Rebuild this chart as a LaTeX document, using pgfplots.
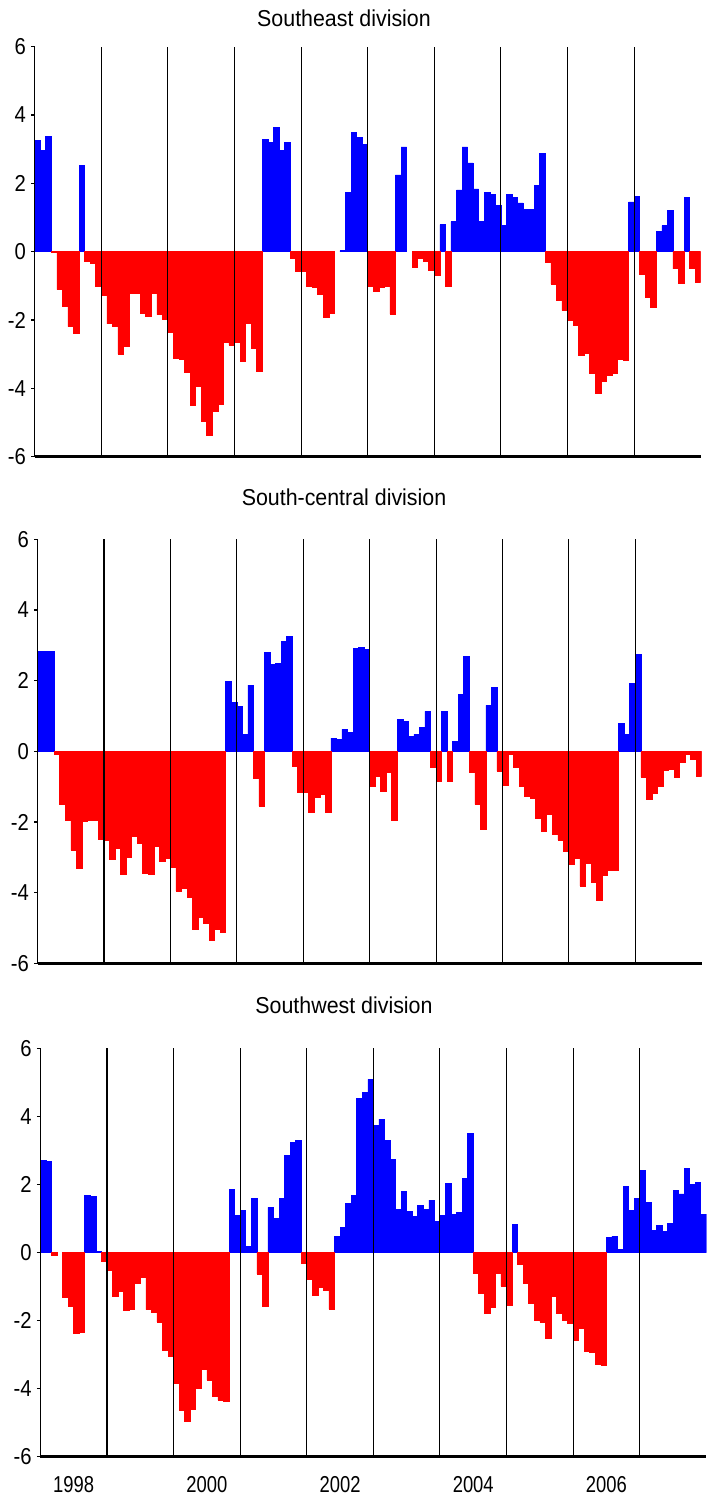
\documentclass[border=0pt]{standalone}
\usepackage{pgfplots}
\usepackage{pgfplotstable}
\pgfplotsset{compat=1.18}
\usepackage{fontspec}
\setmainfont[FakeStretch=0.88]{Liberation Sans}
\newfontfamily\titlefont[FakeStretch=0.93]{Liberation Sans}
\newfontfamily\yearfont[FakeStretch=0.8]{Liberation Sans}

\definecolor{wetblue}{RGB}{0,0,255}
\definecolor{dryred}{RGB}{255,0,0}

% Monthly index values, January 1998 to December 2007 (one line per year)
\pgfplotstableread[row sep=\\]{
v\\
3.25\\ 2.96\\ 3.37\\ -0.03\\ -1.11\\ -1.60\\ -2.19\\ -2.40\\ 2.52\\ -0.29\\ -0.35\\ -1.02\\
-1.27\\ -2.11\\ -2.17\\ -3.00\\ -2.77\\ -1.23\\ -1.23\\ -1.81\\ -1.89\\ -1.23\\ -1.84\\ -1.99\\
-2.37\\ -3.12\\ -3.15\\ -3.53\\ -4.50\\ -3.94\\ -4.97\\ -5.38\\ -4.67\\ -4.47\\ -2.65\\ -2.73\\
-2.66\\ -3.21\\ -2.11\\ -2.83\\ -3.50\\ 3.28\\ 3.19\\ 3.63\\ 2.96\\ 3.19\\ -0.20\\ -0.58\\
-0.58\\ -1.01\\ -1.04\\ -1.25\\ -1.92\\ -1.80\\ 0\\ 0.03\\ 1.73\\ 3.48\\ 3.34\\ 3.13\\
-1.01\\ -1.16\\ -1.04\\ -1.01\\ -1.83\\ 2.25\\ 3.07\\ 0\\ -0.47\\ -0.18\\ -0.28\\ -0.55\\
-0.69\\ 0.79\\ -1.01\\ 0.88\\ 1.81\\ 3.07\\ 2.60\\ 1.84\\ 0.88\\ 1.73\\ 1.67\\ 1.35\\
0.76\\ 1.67\\ 1.58\\ 1.43\\ 1.23\\ 1.23\\ 1.93\\ 2.87\\ -0.32\\ -0.94\\ -1.43\\ -1.72\\
-2.02\\ -2.16\\ -3.03\\ -2.98\\ -3.56\\ -4.15\\ -3.80\\ -3.62\\ -3.56\\ -3.16\\ -3.18\\ 1.46\\
1.61\\ -0.66\\ -1.34\\ -1.63\\ 0.59\\ 0.76\\ 1.20\\ -0.50\\ -0.93\\ 1.58\\ -0.50\\ -0.90\\
}\southeast

\pgfplotstableread[row sep=\\]{
v\\
2.83\\ 2.83\\ 2.83\\ -0.09\\ -1.50\\ -1.94\\ -2.80\\ -3.31\\ -1.97\\ -1.94\\ -1.94\\ -2.49\\
-2.52\\ -3.06\\ -2.75\\ -3.48\\ -3.00\\ -2.41\\ -2.60\\ -3.45\\ -3.48\\ -2.69\\ -3.11\\ -3.03\\
-3.28\\ -3.95\\ -3.89\\ -4.13\\ -5.03\\ -4.70\\ -4.86\\ -5.34\\ -5.03\\ -5.11\\ 1.98\\ 1.39\\
1.27\\ 0.48\\ 1.87\\ -0.75\\ -1.55\\ 2.80\\ 2.46\\ 2.49\\ 3.11\\ 3.25\\ -0.42\\ -1.16\\
-1.16\\ -1.73\\ -1.30\\ -1.22\\ -1.73\\ 0.37\\ 0.34\\ 0.62\\ 0.54\\ 2.92\\ 2.94\\ 2.89\\
-0.99\\ -0.71\\ -1.13\\ -0.59\\ -1.95\\ 0.91\\ 0.85\\ 0.42\\ 0.48\\ 0.68\\ 1.13\\ -0.45\\
-0.84\\ 1.13\\ -0.84\\ 0.28\\ 1.61\\ 2.69\\ -0.58\\ -1.50\\ -2.20\\ 1.30\\ 1.81\\ -0.56\\
-0.95\\ -0.08\\ -0.44\\ -0.98\\ -1.26\\ -1.32\\ -1.89\\ -2.25\\ -1.78\\ -2.34\\ -2.51\\ -2.82\\
-3.19\\ -3.02\\ -3.81\\ -3.16\\ -3.70\\ -4.21\\ -3.50\\ -3.36\\ -3.36\\ 0.79\\ 0.48\\ 1.92\\
2.75\\ -0.73\\ -1.35\\ -1.18\\ -0.98\\ -0.53\\ -0.50\\ -0.73\\ -0.30\\ -0.08\\ -0.22\\ -0.70\\
}\southcentral

\pgfplotstableread[row sep=\\]{
v\\
2.71\\ 2.68\\ -0.07\\ 0\\ -1.33\\ -1.57\\ -2.36\\ -2.33\\ 1.68\\ 1.66\\ 0.04\\ -0.27\\
-0.51\\ -1.30\\ -1.13\\ -1.71\\ -1.66\\ -0.89\\ -0.72\\ -1.68\\ -1.77\\ -2.04\\ -2.86\\ -3.04\\
-3.83\\ -4.65\\ -4.95\\ -4.60\\ -3.98\\ -3.43\\ -3.74\\ -4.21\\ -4.33\\ -4.36\\ 1.86\\ 1.10\\
1.24\\ 0.19\\ 1.60\\ -0.63\\ -1.57\\ 1.33\\ 1.01\\ 1.60\\ 2.86\\ 3.24\\ 3.30\\ -0.33\\
-0.80\\ -1.27\\ -1.01\\ -1.10\\ -1.66\\ 0.48\\ 0.74\\ 1.45\\ 1.68\\ 4.53\\ 4.71\\ 5.09\\
3.74\\ 3.92\\ 3.30\\ 2.74\\ 1.27\\ 1.80\\ 1.21\\ 1.07\\ 1.39\\ 1.27\\ 1.54\\ 0.92\\
1.10\\ 2.04\\ 1.13\\ 1.18\\ 2.18\\ 3.51\\ -0.60\\ -1.19\\ -1.80\\ -1.60\\ -0.60\\ -0.98\\
-1.54\\ 0.83\\ -0.36\\ -0.89\\ -1.48\\ -1.98\\ -2.04\\ -2.51\\ -1.30\\ -1.80\\ -1.98\\ -2.07\\
-2.57\\ -2.24\\ -2.89\\ -2.93\\ -3.27\\ -3.31\\ 0.45\\ 0.48\\ 0.10\\ 1.95\\ 1.24\\ 1.60\\
2.42\\ 1.48\\ 0.66\\ 0.80\\ 0.63\\ 0.86\\ 1.83\\ 1.72\\ 2.48\\ 2.00\\ 2.07\\ 1.13\\
}\southwest

\pgfplotsset{
  division/.style={
    scale only axis,
    xmin=-0.5, xmax=119.5,
    ymin=-6, ymax=6,
    axis x line*=bottom, axis y line*=left,
    x axis line style={line width=1.4pt},
    y axis line style={line width=0.6pt},
    xtick={11.5,23.5,...,107.5},
    xticklabels={},
    xtick style={draw=none},
    xmajorgrids,
    major x grid style={black, line width=0.55pt},
    ytick={-6,-4,...,6},
    yticklabels={-6,-4,-2,0,2,4,6},
    ytick style={black, line width=0.6pt},
    tick align=outside,
    major tick length=1.8pt,
    yticklabel style={font=\fontsize{11.5}{13}\selectfont, inner sep=0pt, xshift=-2.4pt},
    axis on top,
  },
  wet/.style={ybar, bar width=1, bar shift=0pt, fill=wetblue, draw=wetblue,
    line width=0.3pt, unbounded coords=discard,
    y filter/.expression={y>0 ? y : nan}},
  dry/.style={ybar, bar width=1, bar shift=0pt, fill=dryred, draw=dryred,
    line width=0.3pt, unbounded coords=discard,
    y filter/.expression={y<0 ? y : nan}},
}

\begin{document}
\begin{tikzpicture}
\path[use as bounding box] (0pt,0pt) rectangle (353.5pt,-750pt);

% Southeast division
\node[anchor=base, inner sep=0pt] at (172pt,-13.25pt)
  {\titlefont\fontsize{11.5}{13}\selectfont Southeast division};
\begin{axis}[division, width=333pt, height=205pt,
  at={(17.35pt,-228.35pt)}, anchor=south west]
  \addplot[wet] table[x expr=\coordindex, y=v] {\southeast};
  \addplot[dry] table[x expr=\coordindex, y=v] {\southeast};
\end{axis}

% South-central division
\node[anchor=base, inner sep=0pt] at (172pt,-252.75pt)
  {\titlefont\fontsize{11.5}{13}\selectfont South-central division};
\begin{axis}[division, width=332.05pt, height=212pt,
  at={(18.8pt,-481.65pt)}, anchor=south west]
  \addplot[wet] table[x expr=\coordindex, y=v] {\southcentral};
  \addplot[dry] table[x expr=\coordindex, y=v] {\southcentral};
\end{axis}

% Southwest division, with the year labels underneath
\node[anchor=base, inner sep=0pt] at (172pt,-506.75pt)
  {\titlefont\fontsize{11.5}{13}\selectfont Southwest division};
\begin{axis}[division, width=332.95pt, height=204.2pt,
  at={(20.2pt,-728.35pt)}, anchor=south west,
  extra x ticks={5.5,29.5,53.5,77.5,101.5},
  extra x tick labels={1998,2000,2002,2004,2006},
  extra x tick style={grid=none, major tick length=0pt,
    xticklabel style={font=\yearfont\fontsize{11.5}{13}\selectfont,
      inner sep=0pt, anchor=north, yshift=-9.5pt}}]
  \addplot[wet] table[x expr=\coordindex, y=v] {\southwest};
  \addplot[dry] table[x expr=\coordindex, y=v] {\southwest};
\end{axis}
\end{tikzpicture}
\end{document}
